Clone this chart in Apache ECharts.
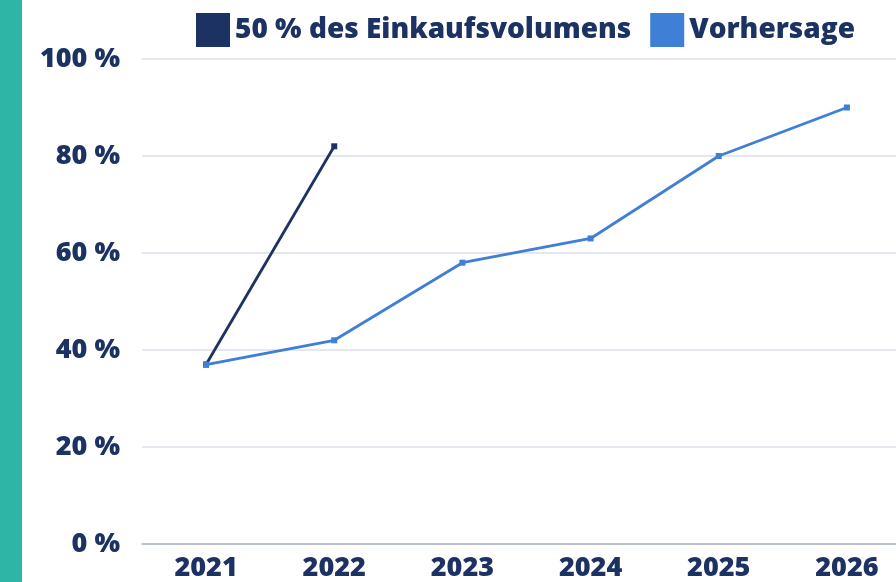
<!DOCTYPE html>
<html><head><meta charset="utf-8">
<script src="https://cdn.jsdelivr.net/npm/echarts@6/dist/echarts.min.js"></script>
<style>html,body{margin:0;padding:0;background:#fff}#c{width:896px;height:582px}</style>
</head><body><div id="c"></div>
<script>
const years = ['2021','2022','2023','2024','2025','2026'];
const einkauf = [37, 82, null, null, null, null];
const vorhersage = [37, 42, 58, 63, 80, 90];
const seriesNames = ['50 % des Einkaufsvolumens', 'Vorhersage'];

const dark = '#1b3263';
const light = '#3f7fd6';
const chart = echarts.init(document.getElementById('c'));
chart.setOption({
  animation: false,
  graphic: [{type:'rect', left:0, top:0, shape:{x:0,y:0,width:22,height:582}, style:{fill:'#2fb5a6'}, z:-1}],
  legend: {
    top: 13, left: 196, padding: 0,
    itemWidth: 34, itemHeight: 34, itemGap: 19,
    icon: 'rect',
    textStyle: {fontFamily:'Open Sans', fontWeight:800, fontSize:28, color: dark},
    data: [{name:seriesNames[0], itemStyle:{color:dark}}, {name:seriesNames[1], itemStyle:{color:light}}]
  },
  grid: {left:142, width:769, top:59, bottom:38, containLabel:false, outerBoundsMode:'none'},
  xAxis: {
    type:'category', data: years, boundaryGap:true,
    axisLine:{show:true, lineStyle:{color:'#aab1c3', width:1.5}},
    axisTick:{show:false},
    axisLabel:{fontFamily:'Open Sans', fontWeight:800, fontSize:27, color:dark, margin:11}
  },
  yAxis: {
    type:'value', min:0, max:100, interval:20,
    axisLabel:{formatter:'{value} %', fontFamily:'Open Sans', fontWeight:800, fontSize:27, color:dark, margin:22},
    splitLine:{lineStyle:{color:'#dde1e8', width:1.5}},
    axisLine:{show:false}, axisTick:{show:false}
  },
  series: [
    {name:seriesNames[0], type:'line', data:einkauf, symbol:'rect', symbolSize:6, color:dark,
     lineStyle:{width:2.8, color:dark}, itemStyle:{color:dark}, z:3},
    {name:seriesNames[1], type:'line', data:vorhersage, symbol:'rect', symbolSize:6, color:light,
     lineStyle:{width:2.8, color:light}, itemStyle:{color:light}, z:4}
  ]
});
</script></body></html>
